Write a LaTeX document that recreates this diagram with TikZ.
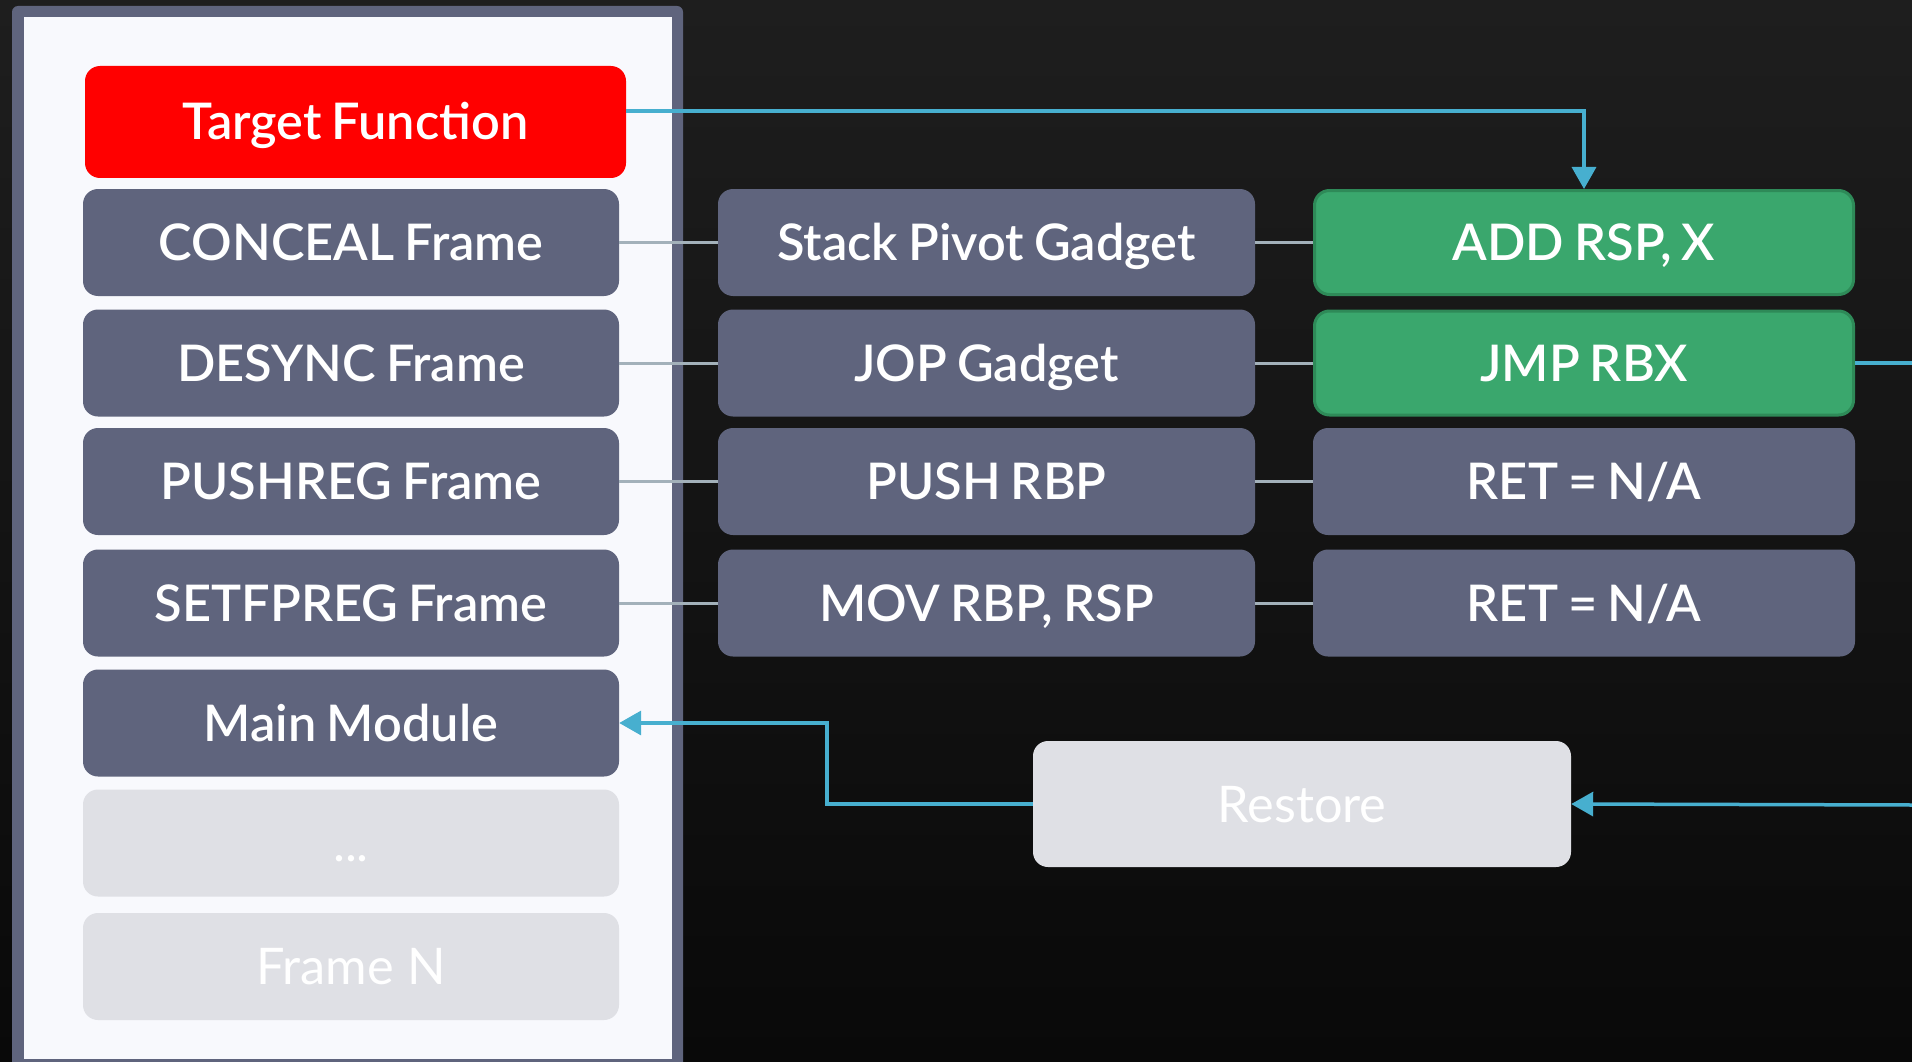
\documentclass[tikz,border=0pt]{standalone}
\usepackage{fontspec}
\setmainfont{Lato}
\newfontfamily\heavyfont{Lato Semibold}[WordSpace=0.8]
\usetikzlibrary{arrows.meta}

\definecolor{slate}{HTML}{5F647D}
\definecolor{panelbg}{HTML}{F8F9FD}
\definecolor{ghost}{HTML}{DFE0E5}
\definecolor{gadgetgreen}{HTML}{3AA76D}
\definecolor{gadgetedge}{HTML}{2E8A58}
\definecolor{flowcyan}{HTML}{47AFCF}
\definecolor{linkgray}{HTML}{A3B1BA}
\definecolor{alarm}{HTML}{FF0000}
\definecolor{bgtop}{HTML}{1E1E1E}
\definecolor{bgbottom}{HTML}{090909}

\tikzset{
  box/.style={rectangle, rounded corners=15pt, inner sep=0pt,
    text=white, font=\heavyfont\fontsize{50.5}{58}\selectfont,
    text height=36pt, text depth=0pt},
  frame/.style={box, fill=slate, minimum width=536pt, minimum height=107pt},
  target/.style={box, fill=alarm, minimum width=541pt, minimum height=112pt},
  faded/.style={box, fill=ghost, minimum width=536pt, minimum height=107pt,
    font=\fontsize{50.5}{58}\selectfont},
  gadget/.style={box, fill=slate, minimum width=537pt, minimum height=107pt},
  instr/.style={box, fill=slate, minimum width=542pt, minimum height=107pt},
  hot/.style={box, fill=gadgetgreen, draw=gadgetedge, line width=3pt,
    minimum width=539pt, minimum height=104pt},
  restorebox/.style={box, fill=ghost, minimum width=538pt, minimum height=126pt,
    font=\fontsize{50.5}{58}\selectfont},
  link/.style={draw=linkgray, line width=3pt},
  flow/.style={draw=flowcyan, line width=3.5pt},
  flowarrow/.style={flow, -{Triangle[length=22pt,width=24pt]}},
}

\begin{document}
\begin{tikzpicture}[x=1pt, y=-1pt]
  % canvas
  \useasboundingbox (0,0) rectangle (1912,1062);
  \shade[top color=bgtop, bottom color=bgbottom] (0,0) rectangle (1912,1062);

  % call-stack panel
  \fill[slate, rounded corners=6pt] (12,6) rectangle (683,1075);
  \fill[panelbg] (24,17) rectangle (672,1059);

  % stack frames
  \node[target] (tf)   at (355.5,122)  {Target Function};
  \node[frame]  (conceal) at (351,242.5) {CONCEAL Frame};
  \node[frame]  (desync)  at (351,363)   {DESYNC Frame};
  \node[frame]  (pushreg) at (351,481.5) {PUSHREG Frame};
  \node[frame]  (setfp)   at (351,603)   {SETFPREG Frame};
  \node[frame]  (main)    at (351,723)   {Main Module};
  \node[faded]  (dots)    at (351,843)   {...};
  \node[faded]  (frameN)  at (351,966.5) {Frame N};

  % gadgets
  \node[gadget] (pivot) at (986.5,242.5) {Stack Pivot Gadget};
  \node[gadget] (jop)   at (986.5,363)   {JOP Gadget};
  \node[gadget] (push)  at (986.5,481.5) {PUSH RBP};
  \node[gadget] (mov)   at (986.5,603)   {MOV RBP, RSP};

  % instructions
  \node[hot]   (add)  at (1584,242.5) {ADD RSP, X};
  \node[hot]   (jmp)  at (1584,363)   {JMP RBX};
  \node[instr] (ret1) at (1584,481.5) {RET = N/A};
  \node[instr] (ret2) at (1584,603)   {RET = N/A};

  \node[restorebox] (restore) at (1302,804) {Restore};

  % frame -> gadget -> instruction links
  \foreach \a/\b/\c in {conceal/pivot/add, desync/jop/jmp, pushreg/push/ret1, setfp/mov/ret2}{
    \path[link] (\a.east) -- (\b.west);
    \path[link] (\b.east) -- (\c.west);
  }

  % control flow
  \coordinate (jmpout) at (1912,363);
  \coordinate (retin)  at (1912,805);
  \path[flowarrow] (tf.east) ++(0,-11) -| (add.north);
  \path[flow] (jmp.east) -- (jmpout);
  \path[flowarrow] (retin) -- (restore.east);
  \path[flowarrow] (restore.west) -- ++(-206,0) |- (main.east);
\end{tikzpicture}
\end{document}
